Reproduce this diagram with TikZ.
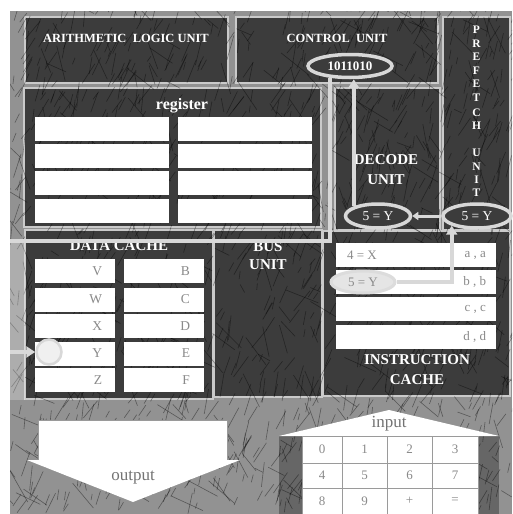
\documentclass[tikz,border=0pt]{standalone}
\usepackage{fontspec}
\setmainfont{Liberation Serif}
\usetikzlibrary{arrows.meta,shapes.geometric,calc}
\definecolor{bgc}{HTML}{929292}
\definecolor{boxfill}{HTML}{3C3C3C}
\definecolor{boxline}{HTML}{CACACA}
\definecolor{connc}{HTML}{D8D8D8}
\definecolor{txtgray}{HTML}{8A8A8A}
\definecolor{gridc}{HTML}{9A9A9A}
\tikzset{
  unitbox/.style={draw=boxline, line width=1.3pt, fill=boxfill, inner sep=0pt},
  ttl/.style={text=white, font=\bfseries\fontsize{15}{17}\selectfont, align=center, inner sep=0pt},
  cell/.style={fill=white, draw=none, inner sep=0pt},
  celltext/.style={text=txtgray, font=\fontsize{13.5}{13.5}\selectfont, inner sep=0pt},
  oval/.style={ellipse, draw=connc, line width=3.5pt, fill=boxfill, text=white, inner sep=0pt,
               font=\fontsize{13.5}{13.5}\selectfont},
  conn/.style={draw=connc, line width=4pt},
  tipa/.style={-{Triangle[length=9pt,width=11pt]}},
  keycell/.style={draw=gridc, line width=0.8pt, fill=white, inner sep=0pt, text=txtgray,
                  font=\fontsize{13}{13}\selectfont},
  scrib/.style={draw=black, line width=0.6pt, opacity=0.4}
}
\begin{document}
\begin{tikzpicture}[x=1pt,y=-1pt]
\useasboundingbox (0,0) rectangle (512,514);
\fill[white] (0,0) rectangle (512,514);
\fill[bgc] (10,11) rectangle (512,514);
% dark area behind the keypad
\fill[black!60] (279,436) rectangle (499,514);

% unit boxes
\node[unitbox, minimum width=203, minimum height=66] (alu) at (126.5,50) {};
\node[unitbox, minimum width=202, minimum height=66] (cu) at (337,50) {};
\node[unitbox, minimum width=67, minimum height=213] (pfu) at (476.5,123.5) {};
\node[unitbox, minimum width=297, minimum height=139] (reg) at (172.5,157.5) {};
\node[unitbox, minimum width=105, minimum height=142] (dec) at (387.5,159) {};
\node[unitbox, minimum width=188, minimum height=169] (dc) at (119,314.5) {};
\node[unitbox, minimum width=108, minimum height=167] (bus) at (268,313.5) {};
\node[unitbox, minimum width=187, minimum height=165] (ic) at (416.5,313.5) {};

% texture
\begin{scope}
\clip (10,11) rectangle (512,514);
\pgfmathsetseed{17}
\foreach \k in {1,...,1300}{
  \pgfmathsetmacro\px{10+502*rnd}
  \pgfmathsetmacro\py{11+503*rnd}
  \pgfmathsetmacro\ang{50+35*rnd}
  \pgfmathsetmacro\len{6+20*rnd}
  \draw[scrib] (\px,\py) -- ++({\len*cos(\ang)},{-\len*sin(\ang)});
}
\foreach \k in {1,...,350}{
  \pgfmathsetmacro\px{10+502*rnd}
  \pgfmathsetmacro\py{11+503*rnd}
  \pgfmathsetmacro\ang{100+60*rnd}
  \pgfmathsetmacro\len{8+30*rnd}
  \draw[scrib] (\px,\py) -- ++({\len*cos(\ang)},{-\len*sin(\ang)});
}
\end{scope}

% titles
\node[ttl, font=\bfseries\fontsize{12.5}{14}\selectfont] (alut) at (126,38) {ARITHMETIC\ \ LOGIC UNIT};
\node[ttl, font=\bfseries\fontsize{12.5}{14}\selectfont] (cut) at (337,38) {CONTROL\ \ UNIT};
\node[ttl, font=\bfseries\fontsize{16}{16}\selectfont] (regt) at (182,106) {register};
\node[ttl, text width=110, font=\bfseries\fontsize{15}{20}\selectfont] (dect) at (386,170) {DECODE\\UNIT};
\node[ttl, text width=110, font=\bfseries\fontsize{15}{18}\selectfont] (bust) at (268,256) {BUS\\UNIT};
\node[ttl, text width=180, font=\bfseries\fontsize{15}{20}\selectfont] (ict) at (417,370) {INSTRUCTION\\CACHE};
\node[ttl] (dct) at (119,246) {DATA CACHE};
\foreach \l/\y [count=\i] in {P/30,R/43.5,E/57,F/70.5,E/84,T/98,C/112.5,H/126,U/153,N/166.5,I/180,T/192.5}{
  \node[ttl, font=\bfseries\fontsize{11.5}{11.5}\selectfont] (pfl\i) at (476.5,\y) {\l};
}

% register cells
\foreach \y [count=\i] in {128.5,155.5,182.5,211}{
  \node[cell, minimum width=134, minimum height=24] (rl\i) at (102,\y) {};
  \node[cell, minimum width=134, minimum height=24] (rr\i) at (245,\y) {};
}

% data cache cells
\foreach \y/\a/\b [count=\i] in {271/V/B,299.5/W/C,326/X/D,353.5/Y/E,380/Z/F}{
  \node[cell, minimum width=80, minimum height=24] (dl\i) at (75,\y) {};
  \node[cell, minimum width=80, minimum height=24] (dr\i) at (164,\y) {};
  \node[celltext, anchor=east] (dlt\i) at ([xshift=-13]dl\i.east) {\a};
  \node[celltext, anchor=east] (drt\i) at ([xshift=-14]dr\i.east) {\b};
}

% instruction cache cells
\foreach \y/\r [count=\i] in {255/{a , a},281.5/{b , b},309/{c , c},336.5/{d , d}}{
  \node[cell, minimum width=160, minimum height=24] (icc\i) at (416,\y) {};
  \node[celltext, anchor=east, font=\fontsize{13}{13}\selectfont] (icr\i) at ([xshift=-10]icc\i.east) {\r};
}
\node[celltext, anchor=west, font=\fontsize{13}{13}\selectfont] (icl1) at ([xshift=11]icc1.west) {4 = X};

% ovals
\node[oval, minimum width=84, minimum height=23, font=\bfseries\fontsize{13}{13}\selectfont] (cuo) at (350,66) {1011010};
\node[oval, minimum width=65, minimum height=24] (deco) at (378,216) {5 = Y};
\node[oval, minimum width=68, minimum height=24] (pfo) at (477,216) {5 = Y};
\node[ellipse, draw=connc!90!white, line width=3pt, fill=black!10, minimum width=64, minimum height=22,
      inner sep=0pt, text=txtgray, font=\fontsize{13}{13}\selectfont] (ico) at (363,282) {5 = Y};
\node[circle, draw=connc, line width=2.5pt, fill=black!6, minimum size=25, inner sep=0pt] (dco) at (49,352) {};

% connectors
\coordinate (b1) at (10,241);
\coordinate (b2) at (10,352);
\fill[white, opacity=0.25] (b1) rectangle ([xshift=15]b2 |- dc.south);
\draw[conn] (cuo.210) |- (b1);
\draw[conn, tipa] (b2) -- (dco.west);
\draw[conn, tipa] (deco.north west) -- (deco.north west |- cuo.south);
\draw[conn, line width=3pt, -{Triangle[length=6pt,width=8pt]}] (pfo.west) -- (deco.east);
\draw[conn, tipa] (ico.east) -| (pfo.south west);

% output
\node[draw=gridc, line width=0.8pt, fill=white, minimum width=189, minimum height=40, inner sep=0pt] (outr) at (132.5,440) {};
\fill[white] (27,460) -- (240,460) -- (133,502) -- cycle;
\node[text=black!55, font=\fontsize{17}{17}\selectfont, inner sep=0pt] (outt) at (133,478) {output};

% input
\fill[white] (279,436) -- (389,410) -- (499,436) -- cycle;
\node[text=black!55, font=\fontsize{17}{17}\selectfont, inner sep=0pt] (inpt) at (389,424) {input};
\foreach \r/\yc/\h [count=\j] in {{0,1,2,3}/449.5/27,{4,5,6,7}/475.5/25,{8,9,+,=}/501/26}{
  \foreach \t/\xc/\w [count=\i] in {0/322/40,1/364.5/45,2/409.5/45,3/455/46}{
    \node[keycell, minimum width=\w, minimum height=\h] (k\j\i) at (\xc,\yc) {\foreach \q [count=\n] in \r {\ifnum\n=\i\relax\q\fi}};
  }
}
\end{tikzpicture}
\end{document}
